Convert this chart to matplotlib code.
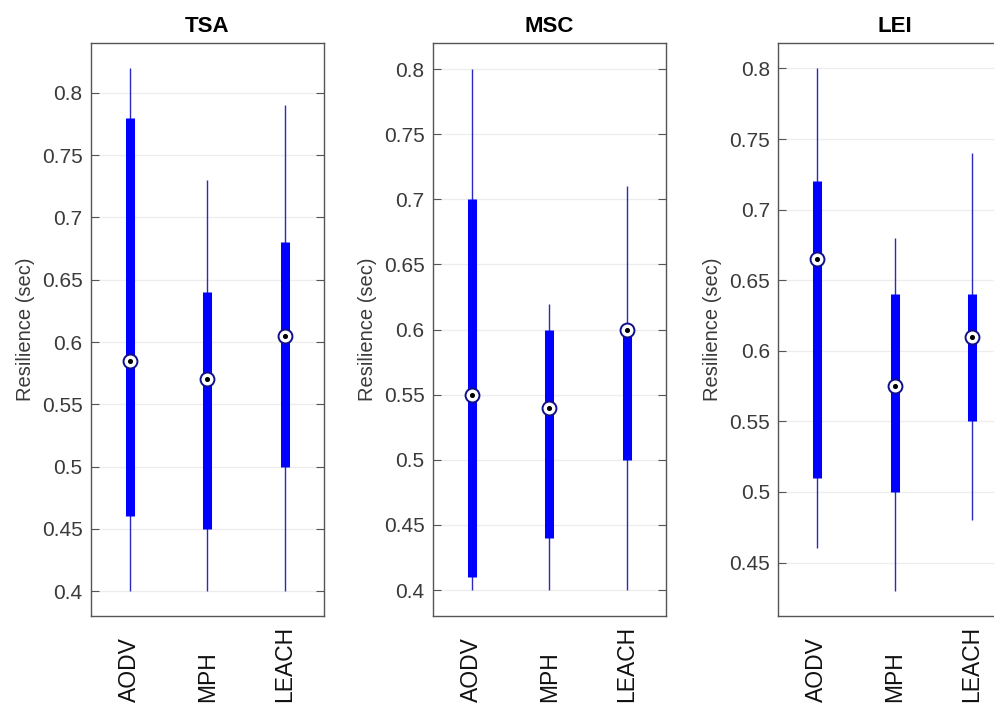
import matplotlib
matplotlib.use("Agg")
import matplotlib.pyplot as plt
from matplotlib.transforms import blended_transform_factory

# data
protocols = ["AODV", "MPH", "LEACH"]
panels = ["TSA", "MSC", "LEI"]

# per panel: lower whisker, q1, median, q3, upper whisker
whis_lo = {"TSA": [0.40, 0.40, 0.40], "MSC": [0.40, 0.40, 0.40], "LEI": [0.46, 0.43, 0.48]}
q1 = {"TSA": [0.46, 0.45, 0.50], "MSC": [0.41, 0.44, 0.50], "LEI": [0.51, 0.50, 0.55]}
med = {"TSA": [0.585, 0.57, 0.605], "MSC": [0.55, 0.54, 0.60], "LEI": [0.665, 0.575, 0.61]}
q3 = {"TSA": [0.78, 0.64, 0.68], "MSC": [0.70, 0.60, 0.60], "LEI": [0.72, 0.64, 0.64]}
whis_hi = {"TSA": [0.82, 0.73, 0.79], "MSC": [0.80, 0.62, 0.71], "LEI": [0.80, 0.68, 0.74]}

ylims = {"TSA": (0.38, 0.84), "MSC": (0.38, 0.82), "LEI": (0.412, 0.818)}
yticks = {"TSA": [0.4, 0.45, 0.5, 0.55, 0.6, 0.65, 0.7, 0.75, 0.8],
          "MSC": [0.4, 0.45, 0.5, 0.55, 0.6, 0.65, 0.7, 0.75, 0.8],
          "LEI": [0.45, 0.5, 0.55, 0.6, 0.65, 0.7, 0.75, 0.8]}

plt.rcParams['font.family'] = ['Liberation Sans', 'DejaVu Sans']

fig = plt.figure(figsize=(9.95, 7.05), dpi=100)
lefts = [0.0915, 0.435, 0.782]
pos = [1, 2, 3]

for name, left in zip(panels, lefts):
    ax = fig.add_axes([left, 0.126, 0.234, 0.813])
    ax.set_ylim(*ylims[name])
    ax.set_xlim(0.5, 3.5)
    ax.set_yticks(yticks[name])
    ax.set_yticklabels([f"{t:g}" for t in yticks[name]])
    ax.yaxis.grid(True, color="#ededed", lw=0.9)
    ax.set_axisbelow(True)

    ax.vlines(pos, whis_lo[name], whis_hi[name], color="#2a2ac0", lw=1.0, zorder=2)
    ax.vlines(pos, q1[name], q3[name], color="#0000ff", lw=6.5, zorder=3)
    ax.scatter(pos, med[name], s=100, facecolor="white", edgecolor="#10108a", lw=1.4, zorder=4)
    ax.scatter(pos, med[name], s=7, color="black", zorder=5)

    # category labels, rotated and aligned at the bottom like the original
    ax.set_xticks(pos)
    ax.set_xticklabels([])
    ax.tick_params(axis="x", length=0)
    trans = blended_transform_factory(ax.transData, fig.transFigure)
    for p, lab in zip(pos, protocols):
        ax.text(p, 0.004, lab, rotation=90, ha="center", va="bottom",
                fontsize=16.5, color="#111111", transform=trans)

    ax.tick_params(axis="y", direction="in", length=6, right=True, labelsize=15,
                   labelcolor="#3a3a3a", color="#555555", pad=6)
    for sp in ax.spines.values():
        sp.set_color("#555555")
        sp.set_linewidth(1.0)
    ax.set_ylabel("Resilience (sec)", fontsize=14.5, color="#3a3a3a", labelpad=5)
    ax.set_title(name, fontsize=16, fontweight="bold", pad=8)

fig.savefig("out.png", dpi=100)
